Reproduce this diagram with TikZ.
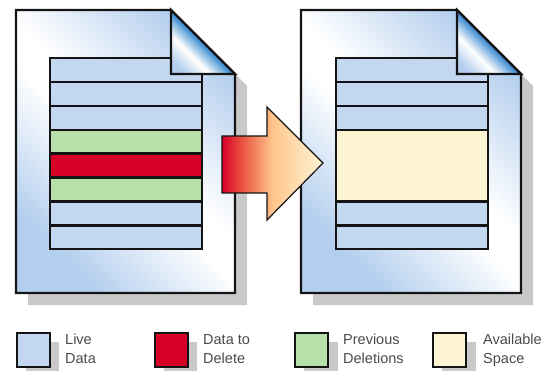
\documentclass[tikz,border=0pt]{standalone}
\usepackage{fontspec}
\setmainfont{Liberation Sans}
\usepackage{tikz}

\definecolor{liveblue}{HTML}{C3D7F0}
\definecolor{prevgreen}{HTML}{B7DFAA}
\definecolor{delred}{HTML}{D70027}
\definecolor{freeyellow}{HTML}{FDF4D2}
\definecolor{docblue}{HTML}{B3CEEE}
\definecolor{folddark}{HTML}{2A80CC}
\definecolor{shadowgray}{HTML}{C9C9C9}
\definecolor{outline}{HTML}{141414}
\definecolor{keytext}{HTML}{4A4A4A}

\pgfdeclarehorizontalshading{docshade}{100bp}{color(0bp)=(docblue); color(26bp)=(docblue); color(47bp)=(white); color(53bp)=(white); color(76bp)=(docblue); color(100bp)=(docblue)}
\pgfdeclarehorizontalshading{foldshade}{100bp}{color(0bp)=(docblue); color(22bp)=(docblue); color(36bp)=(white); color(44bp)=(folddark!55!white); color(50bp)=(folddark); color(100bp)=(folddark)}
\pgfdeclarehorizontalshading{arrowshade}{100bp}{color(0bp)=(delred); color(25bp)=(delred); color(36bp)=(delred!60!orange!80!white); color(50bp)=(orange!45!white); color(75bp)=(freeyellow!90!white); color(100bp)=(freeyellow)}

\begin{document}
\begin{tikzpicture}[x=1pt,y=-1pt]
    \tikzstyle{row}=[draw=outline,line width=2.4pt,anchor=north west,minimum width=152pt,minimum height=23.875pt,inner sep=0pt]
    \tikzstyle{page}=[draw=outline,line width=2.4pt,line join=miter,shading=docshade,shading angle=45]
    \tikzstyle{fold}=[draw=outline,line width=2.4pt,line join=miter,shading=foldshade,shading angle=45]
    \tikzstyle{shadow}=[fill=shadowgray]
    \tikzstyle{key}=[draw=outline,line width=2.4pt,minimum width=33pt,minimum height=34pt,inner sep=0pt,anchor=north west]
    \tikzstyle{keylabel}=[text=keytext,anchor=north west,inner sep=0pt,align=left,font=\fontsize{14.5}{19}\selectfont]

    \useasboundingbox (0,0) rectangle (556,371);

    \def\h{23.875}
    \def\f{64}

    % left page
    \fill[shadow] (28,22) -- (171+12,22) -- (247,10+\f+12) -- (247,305) -- (28,305) -- cycle;
    \path[page] (16,10) -- (171,10) -- (235,10+\f) -- (235,293) -- (16,293) -- cycle;

    \node[row,fill=liveblue]  (a1) at (49,57) {};
    \node[row,fill=liveblue]  (a2) at (49,57+\h) {};
    \node[row,fill=liveblue]  (a3) at (49,57+2*\h) {};
    \node[row,fill=prevgreen] (a4) at (49,57+3*\h) {};
    \node[row,fill=delred]    (a5) at (49,57+4*\h) {};
    \node[row,fill=prevgreen] (a6) at (49,57+5*\h) {};
    \node[row,fill=liveblue]  (a7) at (49,57+6*\h) {};
    \node[row,fill=liveblue]  (a8) at (49,57+7*\h) {};

    \path[fold] (171,10) -- (235,10+\f) -- (171,10+\f) -- cycle;

    % right page
    \fill[shadow] (313,22) -- (457+12,22) -- (533,10+\f+12) -- (533,305) -- (313,305) -- cycle;
    \path[page] (301,10) -- (457,10) -- (521,10+\f) -- (521,293) -- (301,293) -- cycle;

    \node[row,fill=liveblue]   (b1) at (335,57) {};
    \node[row,fill=liveblue]   (b2) at (335,57+\h) {};
    \node[row,fill=liveblue]   (b3) at (335,57+2*\h) {};
    \node[row,fill=freeyellow,minimum height=3*\h] (b4) at (335,57+3*\h) {};
    \node[row,fill=liveblue]   (b5) at (335,57+6*\h) {};
    \node[row,fill=liveblue]   (b6) at (335,57+7*\h) {};

    \path[fold] (457,10) -- (521,10+\f) -- (457,10+\f) -- cycle;

    % arrow
    \path[draw=outline,line width=1.2pt,shading=arrowshade]
        (222,136) -- (267,136) -- (267,107) -- (323,163) -- (267,220) -- (267,193) -- (222,193) -- cycle;

    % key
    \fill[shadow] (26,342) rectangle (59,377);
    \fill[shadow] (164,342) rectangle (197,377);
    \fill[shadow] (304,342) rectangle (338,377);
    \fill[shadow] (442,342) rectangle (476,377);

    \node[key,fill=liveblue]   (klive) at (16,332) {};
    \node[key,fill=delred]     (kdel)  at (154,332) {};
    \node[key,fill=prevgreen]  (kprev) at (294,332) {};
    \node[key,fill=freeyellow] (kfree) at (432,332) {};

    \node[keylabel] (tlive) at (65,334)  {Live\\Data};
    \node[keylabel] (tdel)  at (203,334) {Data to\\Delete};
    \node[keylabel] (tprev) at (343,334) {Previous\\Deletions};
    \node[keylabel] (tfree) at (483,334) {Available\\Space};
\end{tikzpicture}
\end{document}
